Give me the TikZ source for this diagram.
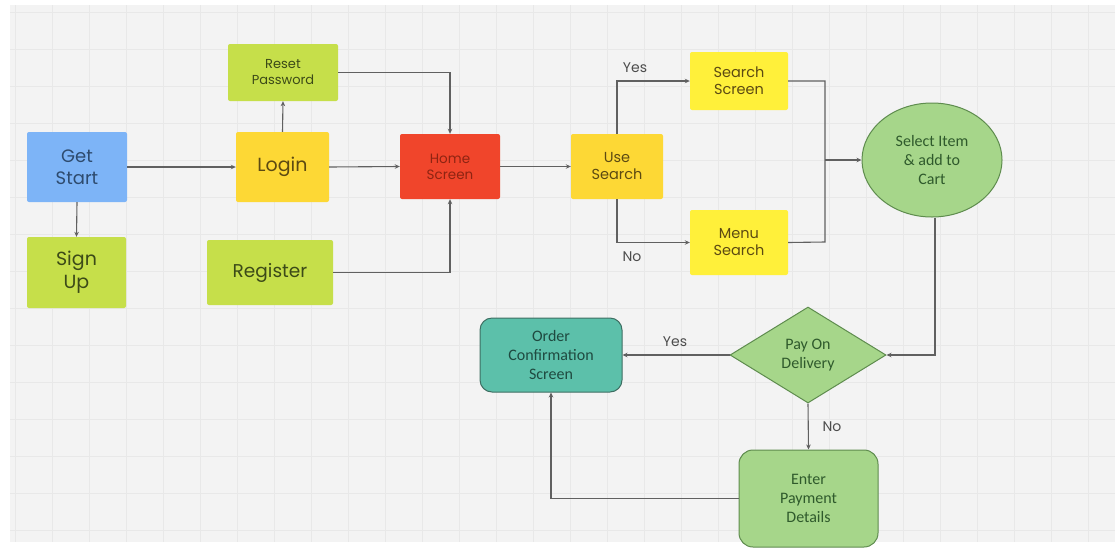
\documentclass[tikz,border=0pt]{standalone}
\usepackage{fontspec}
\setmainfont{Poppins}
\newfontfamily\calib{Carlito}
\usetikzlibrary{shapes.geometric,arrows.meta,positioning}
\definecolor{bgc}{HTML}{F3F3F3}
\definecolor{gridc}{HTML}{E8E8E8}
\definecolor{linec}{HTML}{606060}
\definecolor{bluef}{HTML}{7DB4F7}
\definecolor{bluet}{HTML}{2E4B6E}
\definecolor{limef}{HTML}{C6DF4A}
\definecolor{limet}{HTML}{3C4A18}
\definecolor{yelf}{HTML}{FDD835}
\definecolor{yelt}{HTML}{5C4A12}
\definecolor{yel2f}{HTML}{FFF03A}
\definecolor{redf}{HTML}{F0452B}
\definecolor{redt}{HTML}{8E2412}
\definecolor{greenf}{HTML}{A6D68A}
\definecolor{greend}{HTML}{5E8C4E}
\definecolor{greent}{HTML}{2F5A2C}
\definecolor{tealf}{HTML}{5CC0AA}
\definecolor{teald}{HTML}{3E6E62}
\definecolor{tealt}{HTML}{1F4A40}
\tikzset{
  box/.style={rectangle, rounded corners=2pt, inner sep=0pt, align=center},
  conn/.style={draw=linec, line width=1.1pt, -{Stealth[length=5pt,width=4.5pt]}},
  plain/.style={draw=linec, line width=1.1pt},
  lbl/.style={font=\fontsize{14}{16}\selectfont, text=black!70},
  btext/.style={font=\calib\fontsize{16}{19}\selectfont}
}
\begin{document}
\begin{tikzpicture}[x=1pt,y=-1pt]
\useasboundingbox (0,0) rectangle (1115,552);
\fill[white] (0,0) rectangle (1115,552);
\fill[bgc] (10,5) rectangle (1115,542);
\begin{scope}
\clip (10,5) rectangle (1115,542);
\foreach \x in {15,52,...,1115} \draw[gridc, line width=0.5pt] (\x,5) -- (\x,542);
\foreach \y in {12,49,...,542} \draw[gridc, line width=0.5pt] (10,\y) -- (1115,\y);
\end{scope}

% nodes
\node[box, fill=bluef, text=bluet, minimum width=100pt, minimum height=70pt, font=\fontsize{18}{22}\selectfont] (gs) at (77,167) {Get\\Start};
\node[box, fill=limef, text=limet, minimum width=99pt, minimum height=71pt, font=\fontsize{19}{23}\selectfont] (su) at (76.5,272.5) {Sign\\Up};
\node[box, fill=limef, text=limet, minimum width=110pt, minimum height=57pt, font=\fontsize{13}{16}\selectfont] (rp) at (283,72.5) {Reset\\Password};
\node[box, fill=yelf, text=yelt, minimum width=93pt, minimum height=70pt, font=\fontsize{19}{22}\selectfont] (lg) at (282.5,167) {Login};
\node[box, fill=limef, text=limet, minimum width=126pt, minimum height=65pt, font=\fontsize{18.5}{22}\selectfont] (rg) at (270,272.5) {Register};
\node[box, fill=redf, text=redt, minimum width=100pt, minimum height=65pt, font=\fontsize{13.5}{16}\selectfont] (hs) at (450,166.5) {Home\\Screen};
\node[box, fill=yelf, text=yelt, minimum width=92pt, minimum height=65pt, font=\fontsize{14.5}{17}\selectfont] (us) at (617,166.5) {Use\\Search};
\node[box, fill=yel2f, text=yelt, minimum width=98pt, minimum height=58pt, font=\fontsize{14.5}{17}\selectfont] (ss) at (739,81) {Search\\Screen};
\node[box, fill=yel2f, text=yelt, minimum width=98pt, minimum height=65pt, font=\fontsize{14.5}{17}\selectfont] (ms) at (739,242.5) {Menu\\Search};
\node[ellipse, draw=greend, line width=1pt, fill=greenf, text=greent, minimum width=140pt, minimum height=114pt, inner sep=0pt, align=center, btext] (si) at (932,160) {Select Item\\\& add to\\Cart};
\node[diamond, draw=greend, line width=1pt, fill=greenf, text=greent, minimum width=156pt, minimum height=96pt, inner sep=0pt, aspect=1.62, align=center, btext] (pd) at (808,355) {Pay On\\Delivery};
\node[rectangle, rounded corners=12pt, draw=teald, line width=1pt, fill=tealf, text=tealt, minimum width=142pt, minimum height=74pt, inner sep=0pt, align=center, btext] (oc) at (551,355) {Order\\Confirmation\\Screen};
\node[rectangle, rounded corners=14pt, draw=greend, line width=1pt, fill=greenf, text=greent, minimum width=139pt, minimum height=97pt, inner sep=0pt, align=center, btext] (ep) at (808.5,498.5) {Enter\\Payment\\Details};

% connectors
\draw[conn] (gs.east) -- (lg.west);
\draw[conn] (gs.south) -- (su.north);
\draw[conn] (lg.north) -- (rp.south);
\draw[conn] (rp.east) -| (hs.north);
\draw[conn] (lg.east) -- (hs.west);
\draw[conn] (rg.east) -| (hs.south);
\draw[conn] (us.west -| hs.east) -- (us.west);
\coordinate (yesc) at (us.north |- ss.west);
\coordinate (noc) at (us.south |- ms.west);
\draw[conn] (us.north) -- (yesc) -- (ss.west);
\draw[conn] (us.south) -- (noc) -- (ms.west);
\coordinate (jt) at (825,81);
\coordinate (jb) at (825,242);
\coordinate (jm) at (825,160);
\draw[plain] (ss.east) -- (jt) -- (jb) -- (ms.east);
\draw[conn] (jm) -- (si.west);
\coordinate (sc) at (935,355);
\draw[conn] (si.south -| sc) -- (sc) -- (pd.east);
\draw[conn] (pd.west) -- (oc.east);
\draw[conn] (pd.south) -- (ep.north);
\coordinate (ec) at (oc.south |- ep.west);
\draw[conn] (ep.west) -- (ec) -- (oc.south);

% labels
\node[lbl] (ly1) at (635,68) {Yes};
\node[lbl] (ln1) at (632,257) {No};
\node[lbl] (ly2) at (675,342) {Yes};
\node[lbl] (ln2) at (832,427) {No};
\end{tikzpicture}
\end{document}
